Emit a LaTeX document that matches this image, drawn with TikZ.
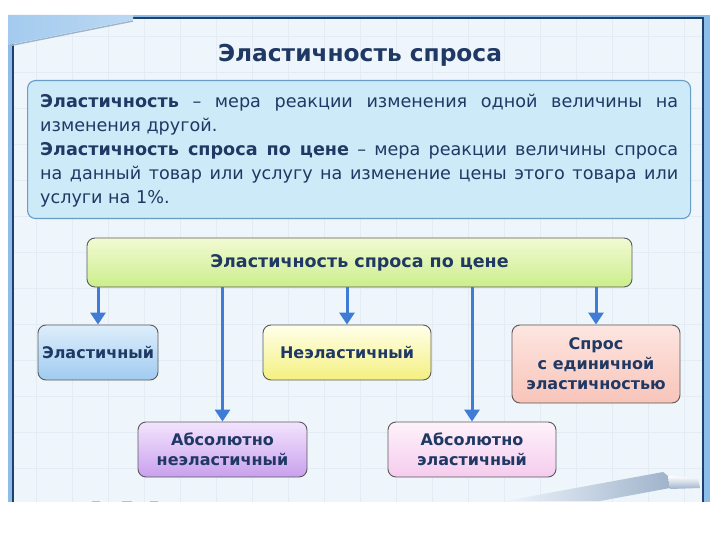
\documentclass[tikz,border=0pt]{standalone}
\usepackage{fontspec}
\setmainfont{DejaVu Sans}
\usetikzlibrary{arrows.meta,shadows}
\definecolor{navy}{HTML}{1F3864}
\definecolor{frameline}{HTML}{1F3F6F}
\definecolor{slidebg}{HTML}{EEF5FB}
\definecolor{band}{HTML}{8DBEEA}
\definecolor{arrowblue}{HTML}{3E7CD6}
\definecolor{defbg}{HTML}{CDEAF8}
\definecolor{defborder}{HTML}{6A9CC8}
\definecolor{boxborder}{HTML}{5A5A5A}
\definecolor{gridc}{HTML}{E3ECF5}
\definecolor{pen}{HTML}{9FB3CB}
\tikzset{
  box/.style={draw=boxborder, line width=0.9pt, rounded corners=8pt, inner sep=0pt,
    font=\fontsize{16}{20}\selectfont\bfseries, text=navy, align=center},
  arr/.style={draw=arrowblue, line width=3pt, -{Triangle[width=15pt,length=12pt]}},
}
\begin{document}
\begin{tikzpicture}[x=1pt,y=-1pt]
\useasboundingbox (0,0) rectangle (720,540);
\fill[white] (0,0) rectangle (720,540);
% slide
\fill[slidebg] (8,15) rectangle (710,502);
\draw[gridc, line width=0.5pt] (13,18) grid[step=36pt] (703,502);
\fill[band] (8,15) rectangle (13,502);
\fill[band] (703,15) rectangle (710,502);
\fill[band] (133,15) rectangle (710,18);
\draw[frameline, line width=1.4pt] (13,502) -- (13,42);
\draw[frameline, line width=1.4pt] (133,18) -- (703,18) -- (703,502);
% wedge
\shade[left color=band!80, right color=band!60] (8,15) -- (133,15) -- (133,20) -- (8,45) -- cycle;
\draw[pen, line width=1.4pt] (133,21) -- (8,46);
% pen decoration
\shade[left color=slidebg, right color=pen] (505,501) -- (663,472) -- (668,476) -- (670,488) -- (600,501) -- cycle;
\shade[top color=white, bottom color=pen] (668,476) -- (698,478) -- (700,488) -- (670,489) -- cycle;
\draw[gray!50, line width=1pt] (92,501) -- (100,501) (122,501) -- (132,501) (150,501) -- (158,501);
% title
\node[font=\fontsize{23.3}{28}\selectfont\bfseries, text=navy] (title) at (360,55) {Эластичность спроса};
% definition
\node[draw=defborder, fill=defbg, line width=1.1pt, rounded corners=8pt,
      minimum width=663pt, minimum height=138pt, anchor=north west] (defbox) at (27,80) {};
\node[anchor=north west, inner sep=0pt, text width=638pt, align=justify, text=navy,
      font=\fontsize{17.6}{24}\selectfont] (deftext) at (40,94)
 {\textbf{Эластичность} – мера реакции изменения одной величины на\linebreak
  изменения другой.\\
  \textbf{Эластичность спроса по цене} – мера реакции величины спроса\linebreak
  на данный товар или услугу на изменение цены этого товара или\linebreak
  услуги на 1\%.};
% main box
\node[box, top color={rgb,255:red,242;green,250;blue,212}, bottom color={rgb,255:red,203;green,238;blue,140},
      font=\fontsize{17.5}{21}\selectfont\bfseries, minimum width=545pt, minimum height=49pt] (main) at (359.5,262.5) {Эластичность спроса по цене};
% level 1
\node[box, top color={rgb,255:red,221;green,238;blue,251}, bottom color={rgb,255:red,160;green,203;blue,240},
      minimum width=120pt, minimum height=55pt] (el) at (98,352.5) {Эластичный};
\node[box, top color={rgb,255:red,255;green,255;blue,234}, bottom color={rgb,255:red,244;green,240;blue,128},
      minimum width=168pt, minimum height=55pt] (ne) at (347,352.5) {Неэластичный};
\node[box, top color={rgb,255:red,253;green,230;blue,224}, bottom color={rgb,255:red,248;green,196;blue,186},
      minimum width=168pt, minimum height=78pt] (un) at (596,364) {Спрос\\с единичной\\эластичностью};
% level 2
\node[box, top color={rgb,255:red,243;green,228;blue,253}, bottom color={rgb,255:red,201;green,160;blue,238},
      minimum width=169pt, minimum height=55pt] (ai) at (222.5,449.5) {Абсолютно\\неэластичный};
\node[box, top color={rgb,255:red,254;green,242;blue,250}, bottom color={rgb,255:red,245;green,204;blue,238},
      minimum width=168pt, minimum height=55pt] (ae) at (472,449.5) {Абсолютно\\эластичный};
% arrows
\draw[arr] (main.south -| el.north) -- (el.north);
\draw[arr] (main.south -| ne.north) -- (ne.north);
\draw[arr] (main.south -| un.north) -- (un.north);
\draw[arr] (main.south -| ai.north) -- (ai.north);
\draw[arr] (main.south -| ae.north) -- (ae.north);
\end{tikzpicture}
\end{document}
